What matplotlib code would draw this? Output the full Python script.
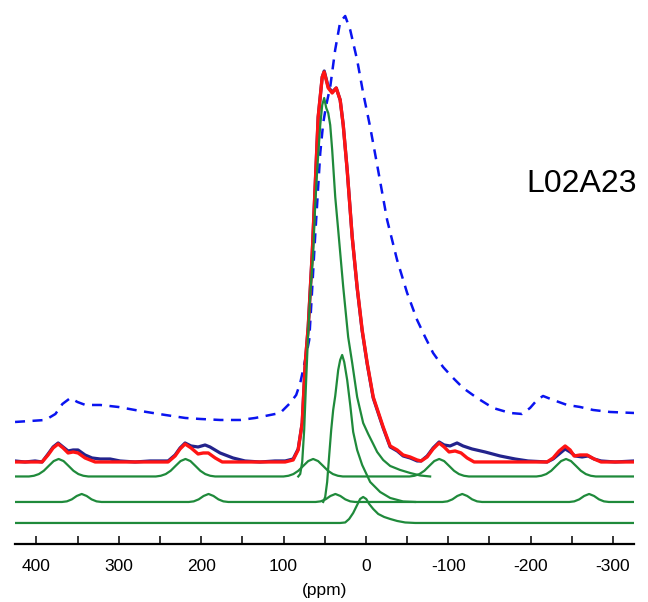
import matplotlib
matplotlib.use("Agg")
import matplotlib.pyplot as plt
import numpy as np
from matplotlib.ticker import MultipleLocator

plt.rcParams["font.family"] = ["Liberation Sans", "DejaVu Sans"]

# values; intensities are heights above each trace's own baseline
sample_label = "L02A23"
tick_values = [400, 300, 200, 100, 0, -100, -200, -300]

# broad static spectrum (dashed)
static_ppm = [425.9, 407.3, 389.1, 376.9, 368.4, 358.7, 350.2, 340.5, 322.3, 300.5, 273.8,
              243.5, 219.2, 201.0, 176.7, 152.5, 134.3, 116.1, 104.0, 91.9, 84.6, 79.7, 74.9,
              71.2, 68.8, 66.3, 63.9, 61.5, 59.1, 55.4, 51.8, 48.1, 43.3, 37.3, 31.2, 25.1,
              19.0, 10.6, 3.3, -5.2, -13.7, -25.8, -37.9, -50.1, -62.2, -71.9, -81.6, -93.7,
              -104.7, -118.0, -135.0, -154.4, -175.1, -189.6, -199.3, -207.8, -215.1, -227.3,
              -244.3, -260.0, -275.8, -296.4, -325.5]
static_int = [0, 1, 2, 8, 18, 24, 20, 17, 17, 15, 11,
              7, 4, 3, 2, 2, 4, 7, 9, 19, 27, 39, 57,
              72, 82, 117, 152, 187, 219, 269, 299, 317, 335, 372, 400, 406,
              392, 362, 329, 295, 257, 202, 162, 129, 102, 85, 69, 55,
              45, 34, 24, 14, 9, 8, 14, 22, 26, 22,
              17, 15, 12, 10, 9]

# experimental MAS spectrum
exp_ppm = [425.9, 413.8, 401.6, 393.1, 385.8, 379.7, 373.6, 367.6, 361.5, 355.4, 349.4, 340.9,
           332.4, 322.6, 310.5, 298.4, 280.2, 262.0, 240.1, 231.6, 225.6, 219.5, 212.2, 203.7,
           195.2, 189.2, 177.0, 161.3, 146.7, 128.5, 110.3, 98.0, 88.3, 82.2, 77.3, 73.6, 70.0,
           65.1, 61.5, 57.9, 53.0, 50.6, 45.7, 40.9, 36.0, 31.2, 27.5, 22.7, 16.6, 10.6, 4.5,
           -1.6, -8.9, -21.0, -29.5, -38.0, -45.2, -53.7, -62.2, -67.1, -74.4, -81.6, -88.9,
           -95.0, -102.2, -110.7, -118.0, -128.9, -144.7, -162.9, -181.1, -196.9, -220.0,
           -227.3, -234.6, -241.9, -248.0, -254.1, -262.5, -269.8, -277.0, -285.5, -302.5, -325.5]
exp_int = [1, 0, 1, 0, 8, 15, 19, 15, 11, 12, 12, 7,
           4, 3, 3, 1, 0, 1, 1, 7, 14, 19, 16, 15,
           17, 15, 9, 4, 1, 0, 1, 1, 3, 13, 39, 99, 135,
           209, 277, 345, 385, 391, 375, 370, 374, 362, 337, 292, 225, 174, 131,
           98, 64, 34, 15, 11, 6, 4, 1, 1, 6, 14, 20,
           17, 16, 19, 16, 13, 10, 6, 3, 1, 0,
           3, 8, 13, 10, 6, 5, 6, 3, 1, 0, 1]

# simulated sum
fit_ppm = [425.9, 393.1, 385.8, 379.7, 373.6, 367.6, 361.5, 355.4, 349.4, 340.9, 328.7, 240.1,
           231.6, 225.6, 219.5, 212.2, 203.7, 197.4, 191.3, 182.9, 174.4, 98.0, 88.3, 82.2,
           77.3, 73.6, 70.0, 65.1, 61.5, 57.9, 53.0, 50.6, 45.7, 40.9, 36.0, 31.2, 27.5, 22.7,
           16.6, 10.6, 4.5, -1.6, -8.9, -21.0, -29.5, -38.0, -45.2, -53.7, -62.2, -67.1, -74.4,
           -81.6, -88.9, -95.0, -101.0, -108.3, -115.6, -122.9, -131.4, -220.0, -227.3, -234.6,
           -241.9, -248.0, -252.8, -260.0, -268.5, -277.0, -285.5, -325.5]
fit_int = [0, 0, 7, 14, 18, 14, 9, 10, 9, 4, 0, 0,
           6, 13, 18, 14, 8, 9, 9, 4, 0, 0, 2, 12,
           39, 99, 135, 209, 277, 345, 385, 390, 374, 369, 374, 362, 337, 292,
           225, 175, 132, 99, 65, 35, 16, 12, 7, 5, 2, 1, 5,
           13, 19, 15, 10, 11, 9, 4, 0, 0, 4, 11,
           16, 12, 6, 7, 7, 3, 0, 0]

# component 1: narrow site with spinning sidebands
site1_ppm = [426, 409, 403, 397, 391, 385, 379, 373, 367, 361, 355, 349, 343, 337,
             255, 249, 243, 237, 231, 225, 219, 213, 207, 201, 195, 189, 183,
             100, 94, 88, 82, 76, 70, 64, 58, 52, 46, 40, 34, 28,
             -53, -59, -65, -71, -77, -83, -89, -95, -101, -107, -113, -119, -125,
             -207, -213, -219, -225, -231, -237, -243, -249, -255, -261, -267, -273, -279, -326]
site1_int = [0, 0, 0.7, 2.4, 5.7, 10.6, 15.4, 17.5, 15.4, 10.6, 5.7, 2.4, 0.7, 0,
             0, 0.7, 2.4, 5.7, 10.6, 15.4, 17.5, 15.4, 10.6, 5.7, 2.4, 0.7, 0,
             0, 0.7, 2.4, 5.7, 10.6, 15.4, 17.5, 15.4, 10.6, 5.7, 2.4, 0.7, 0,
             0, 0.7, 2.4, 5.7, 10.6, 15.4, 17.5, 15.4, 10.6, 5.7, 2.4, 0.7, 0,
             0, 0.7, 2.4, 5.7, 10.6, 15.4, 17.5, 15.4, 10.6, 5.7, 2.4, 0.7, 0, 0]

# component 1: main distributed line
main1_ppm = [82.1, 79.7, 77.3, 74.9, 72.5, 70.0, 67.6, 64.0, 61.5, 59.1, 55.4, 53.0, 50.6,
             48.1, 45.7, 43.3, 40.9, 37.2, 33.6, 27.5, 21.5, 16.6, 10.6, 3.3, -2.8, -8.9,
             -13.7, -21.0, -29.5, -41.6, -53.7, -65.8, -78.0]
main1_int = [0, 2.5, 14.5, 46.5, 96.5, 144.5, 181.5, 223.5, 271.5, 306.5, 351.5, 371.5, 378.5,
             368.5, 363.5, 351.5, 326.5, 279.5, 246.5, 189.5, 139.5, 113.5, 79.5, 53.5, 42.5, 32.5,
             24.5, 16.5, 10.5, 6.5, 3.5, 1, 0]

# component 2: narrow site with spinning sidebands
site2_ppm = [426, 369, 363, 357, 351, 345, 339, 333, 327, 321,
             215, 209, 203, 197, 191, 185, 179, 173, 167,
             61, 55, 49, 43, 37, 31, 25, 19, 13,
             -93, -99, -105, -111, -117, -123, -129, -135, -141,
             -247, -253, -259, -265, -271, -277, -283, -289, -295, -326]
site2_int = [0, 0, 0.6, 2.6, 6, 8, 6, 2.6, 0.6, 0,
             0, 0.6, 2.6, 6, 8, 6, 2.6, 0.6, 0,
             0, 0.6, 2.6, 6, 8, 6, 2.6, 0.6, 0,
             0, 0.6, 2.6, 6, 8, 6, 2.6, 0.6, 0,
             0, 0.6, 2.6, 6, 8, 6, 2.6, 0.6, 0, 0]

# component 2: main distributed line
main2_ppm = [51.8, 49.4, 47.0, 44.5, 42.1, 39.7, 37.2, 33.6, 31.2, 28.8, 26.3, 22.7, 19.0,
             15.4, 10.6, 4.5, -5.2, -17.3, -29.5, -45.2, -59.7]
main2_int = [0, 5, 20, 47, 72, 92, 106, 132, 142, 147, 140, 122, 97,
             70, 52, 37, 20, 10, 4, 0.5, 0]

# component 3
site3_ppm = [426, 31.2, 25.1, 20.3, 15.4, 10.6, 7.0, 3.3, -0.4, -4.0, -8.9, -15.0, -22.2,
             -29.5, -38.0, -47.7, -59.8, -326]
site3_int = [0, 0, 0.5, 4, 10, 18, 24, 26, 24, 19, 14, 9, 6,
             4, 2, 0.5, 0, 0]


def main():
    fig = plt.figure(figsize=(6.48, 6.02), dpi=100)
    ax = fig.add_axes([0.0231, 0.0964, 0.9553, 0.9036])

    green = "#1f8a3b"
    # vertical stacking of the traces
    off_static, off_top, off_r1, off_r2, off_r3 = 122, 82, 67.5, 42, 21

    ax.plot(static_ppm, np.array(static_int) + off_static, color="#0a14f0",
            lw=1.8, linestyle=(0, (4, 3)), zorder=2)
    ax.plot(exp_ppm, np.array(exp_int) + off_top, color="#23238c", lw=2.3, zorder=3)
    ax.plot(fit_ppm, np.array(fit_int) + off_top, color="#ff1414", lw=2.4, zorder=4)

    for xs, ys, off in [(site1_ppm, site1_int, off_r1), (main1_ppm, main1_int, off_r1),
                        (site2_ppm, site2_int, off_r2), (main2_ppm, main2_int, off_r2),
                        (site3_ppm, site3_int, off_r3)]:
        ax.plot(xs, np.array(ys) + off, color=green, lw=1.6, zorder=5)

    ax.set_xlim(426, -325.5)
    ax.set_ylim(0, 544)

    for side in ("left", "right", "top"):
        ax.spines[side].set_visible(False)
    ax.spines["bottom"].set_linewidth(1.6)
    ax.set_yticks([])
    ax.set_xticks(tick_values)
    ax.set_xticklabels([str(v) for v in tick_values])
    ax.xaxis.set_minor_locator(MultipleLocator(50))
    ax.tick_params(axis="x", which="both", direction="in", length=5.5, width=1.1,
                   pad=11, labelsize=12.5)
    ax.set_xlabel("(ppm)", fontsize=12.5, labelpad=6)

    ax.text(-262, 360, sample_label, fontsize=23, ha="center", va="center")

    fig.savefig("out.png", dpi=100)
    plt.close(fig)


if __name__ == "__main__":
    main()
